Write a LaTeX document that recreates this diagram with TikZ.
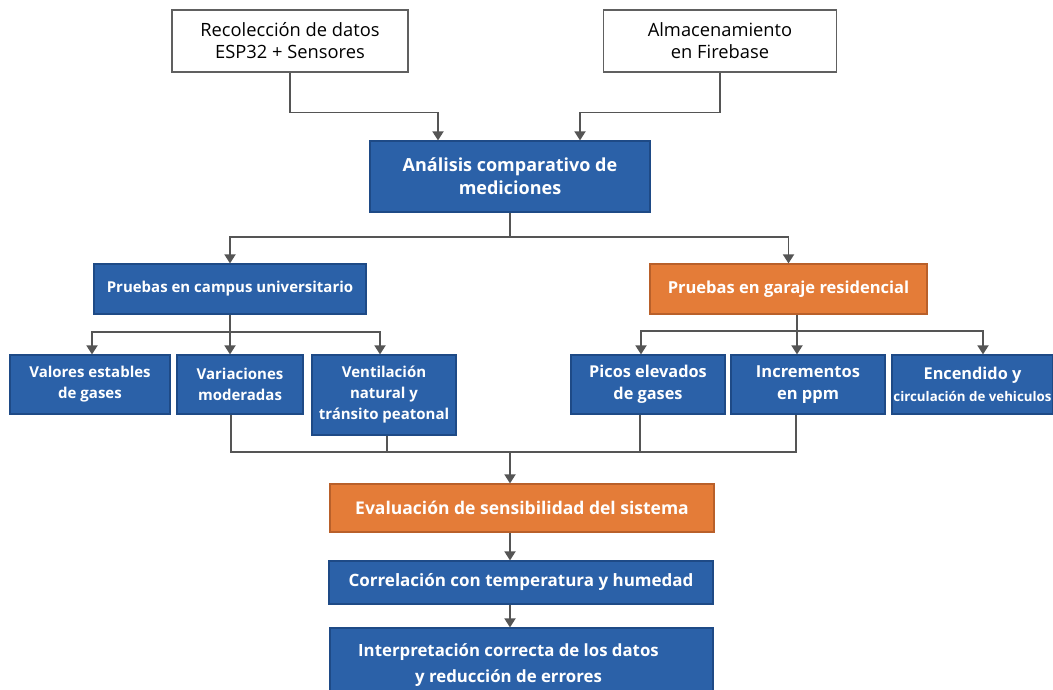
\documentclass[tikz,border=0pt]{standalone}
\usepackage{fontspec}
\setmainfont{Open Sans}
\usetikzlibrary{
		calc,
		positioning,
		arrows.meta
	}
\definecolor{boxblue}{HTML}{2B61A8}
\definecolor{boxblueline}{HTML}{1E4A86}
\definecolor{boxorange}{HTML}{E47C38}
\definecolor{boxorangeline}{HTML}{B9602A}
\definecolor{linegray}{HTML}{555555}
\tikzset{
		>={Triangle[length=9pt,width=11pt]},
		basebox/.style={draw, line width=1.2pt, align=center, inner sep=0pt},
		plainbox/.style={basebox, draw=gray!75!black, fill=white, text=black, font=\fontsize{18.3}{22}\selectfont},
		bluebox/.style={basebox, draw=boxblueline, fill=boxblue, text=white, font=\bfseries\fontsize{15}{21}\selectfont},
		orangebox/.style={basebox, draw=boxorangeline, fill=boxorange, text=white, font=\bfseries\fontsize{15}{21}\selectfont},
		conn/.style={draw=linegray, line width=1.8pt}
	}

\begin{document}
\begin{tikzpicture}[x=1pt, y=-1pt] % 1 unit = 1 pixel of the layout, y grows downward
		\clip (0,0) rectangle (1053,690);
		% sources
		\node[plainbox, minimum width=236, minimum height=62] (rec) at (290,41) {Recolección de datos\\ESP32 + Sensores};
		\node[plainbox, minimum width=233, minimum height=62] (fire) at (720,41) {Almacenamiento\\en Firebase};
		\node[bluebox, minimum width=280, minimum height=71, font=\bfseries\fontsize{18}{23}\selectfont] (ana) at (510,176.5) {Análisis comparativo de\\mediciones};
		% the two test sites
		\node[bluebox, minimum width=272, minimum height=50] (cam) at (230,289) {Pruebas en campus universitario};
		\node[orangebox, minimum width=277, minimum height=50, font=\bfseries\fontsize{16.5}{21}\selectfont] (gar) at (788.5,289) {Pruebas en garaje residencial};
		% campus results
		\node[bluebox, minimum width=160, minimum height=59] (c1) at (90,384.5) {Valores estables\\de gases};
		\node[bluebox, minimum width=126, minimum height=59] (c2) at (240,384.5) {Variaciones\\moderadas};
		\node[bluebox, minimum width=144, minimum height=80] (c3) at (384,395) {Ventilación\\natural y\\tránsito peatonal};
		% garage results
		\node[bluebox, minimum width=154, minimum height=59, font=\bfseries\fontsize{16.3}{22}\selectfont] (g1) at (648,384.5) {Picos elevados\\de gases};
		\node[bluebox, minimum width=154, minimum height=59, font=\bfseries\fontsize{16.5}{22}\selectfont] (g2) at (808,384.5) {Incrementos\\en ppm};
		\node[bluebox, minimum width=161, minimum height=59, font=\bfseries\fontsize{16.3}{22}\selectfont] (g3) at (972.5,384.5) {Encendido y\\{\fontsize{13.3}{16}\selectfont circulación de vehiculos}};
		% evaluation chain
		\node[orangebox, minimum width=384, minimum height=48, font=\bfseries\fontsize{17.5}{21}\selectfont] (eva) at (522,508) {Evaluación de sensibilidad del sistema};
		\node[bluebox, minimum width=384, minimum height=43, font=\bfseries\fontsize{17}{21}\selectfont] (cor) at (521,582.5) {Correlación con temperatura y humedad};
		\node[bluebox, minimum width=383, minimum height=74, font=\bfseries\fontsize{16.8}{26}\selectfont] (int) at (521.5,665) {Interpretación correcta de los datos\hspace*{26pt}\\y reducción de errores\hspace*{26pt}};
		\coordinate (m) at (510,452);

		% connectors
		\draw[conn,->] (rec.south) -- ++(0,40) -| ([xshift=-72pt]ana.north);
		\draw[conn,->] (fire.south) -- ++(0,40) -| ([xshift=70pt]ana.north);
		\draw[conn] (ana.south) -- ++(0,24) coordinate (j1);
		\draw[conn,->] (j1) -| (cam.north);
		\draw[conn,->] (j1) -| (gar.north);

		\draw[conn] (cam.south) -- ++(0,17) coordinate (j2);
		\draw[conn,->] (j2) -| ([xshift=2pt]c1.north);
		\draw[conn,->] (j2) -- (j2 |- c2.north);
		\draw[conn,->] (j2) -| ([xshift=-4pt]c3.north);

		\draw[conn] ([xshift=8.5pt]gar.south) -- ++(0,16) coordinate (j3);
		\draw[conn,->] (j3) -| ([xshift=-7pt]g1.north);
		\draw[conn,->] (j3) -- (j3 |- g2.north);
		\draw[conn,->] (j3) -| ([xshift=10.5pt]g3.north);

		\draw[conn] ([xshift=-9pt]c2.south) |- ([xshift=-12pt]g2.south |- m) -- ([xshift=-12pt]g2.south);
		\draw[conn] ([xshift=3pt]c3.south) -- ([xshift=3pt]c3.south |- m);
		\draw[conn] ([xshift=-8pt]g1.south) -- ([xshift=-8pt]g1.south |- m);
		\draw[conn,->] (m) -- (m |- eva.north);
		\draw[conn,->] ([xshift=-12pt]eva.south) -- ([xshift=-12pt]eva.south |- cor.north);
		\draw[conn,->] ([xshift=-11pt]cor.south) -- ([xshift=-11pt]cor.south |- int.north);
	\end{tikzpicture}
\end{document}
